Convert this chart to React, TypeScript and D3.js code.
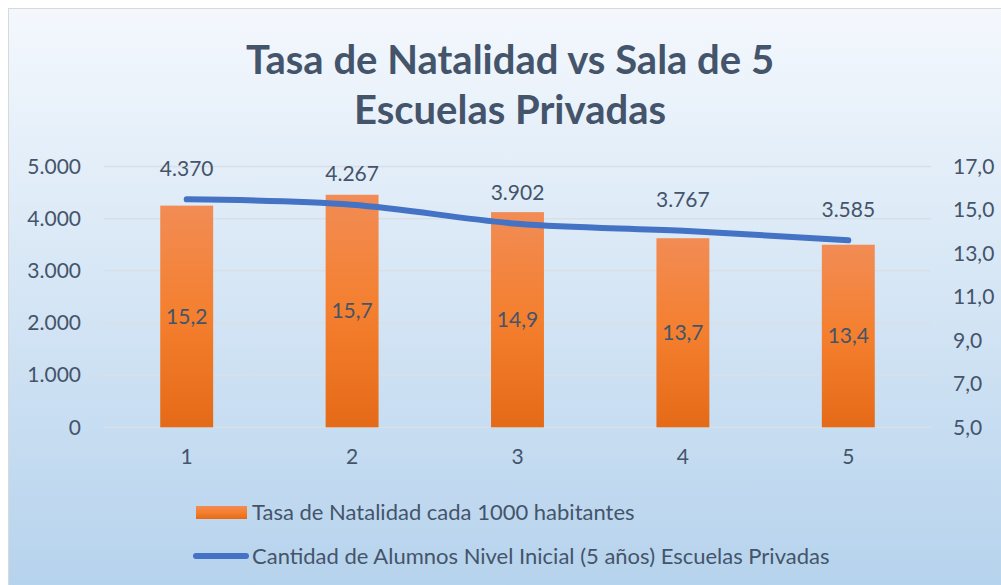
import React from 'react';
import * as d3 from 'd3';

const categories = ['1', '2', '3', '4', '5'];
const natalidad = [15.2, 15.7, 14.9, 13.7, 13.4];
const alumnos = [4370, 4267, 3902, 3767, 3585];
const leftTicks = [0, 1000, 2000, 3000, 4000, 5000];
const rightTicks = [5, 7, 9, 11, 13, 15, 17];
const seriesNames = [
  'Tasa de Natalidad cada 1000 habitantes',
  'Cantidad de Alumnos Nivel Inicial (5 años) Escuelas Privadas',
];

const W = 1001;
const H = 585;
const FONT = "Lato, 'Open Sans', sans-serif";
const TEXT = '#44546a';

const fmtLeft = (v: number) => d3.format(',')(v).replace(/,/g, '.');
const fmtRight = (v: number) => v.toFixed(1).replace('.', ',');

const App = () => {
  const plot = { left: 104, right: 931, top: 166.5, bottom: 427.3 };

  const x = d3
    .scaleBand()
    .domain(categories)
    .range([plot.left, plot.right])
    .paddingInner(0.68)
    .paddingOuter(0.34);
  const xc = (c: string) => (x(c) as number) + x.bandwidth() / 2;
  const yL = d3.scaleLinear().domain([0, 5000]).range([plot.bottom, plot.top]);
  const yR = d3.scaleLinear().domain([5, 17]).range([plot.bottom, plot.top]);

  const line = d3
    .line<number>()
    .x((_, i) => xc(categories[i]))
    .y((d) => yL(d))
    .curve(d3.curveCatmullRom.alpha(0.5));

  return (
    <div style={{ position: 'absolute', left: 0, top: 0 }}>
      <svg width={W} height={H} style={{ display: 'block', fontFamily: FONT }}>
        <defs>
          <linearGradient id="bg" x1="0" y1="0" x2="0" y2="1">
            <stop offset="0%" stopColor="#f4f8fd" />
            <stop offset="100%" stopColor="#b3d1ec" />
          </linearGradient>
          <linearGradient id="bar" x1="0" y1="0" x2="0" y2="1">
            <stop offset="0%" stopColor="#f28c55" />
            <stop offset="50%" stopColor="#f47f2e" />
            <stop offset="100%" stopColor="#e56a17" />
          </linearGradient>
        </defs>

        <rect x={0} y={0} width={W} height={H} fill="#ffffff" />
        <rect x={8.5} y={8.5} width={W} height={H + 20} fill="url(#bg)" stroke="#d9d9d9" strokeWidth={1} />

        {/* título */}
        <text x={510} y={74} textAnchor="middle" fontSize={40} fontWeight={700} fill={TEXT}>
          Tasa de Natalidad vs Sala de 5
        </text>
        <text x={510} y={124} textAnchor="middle" fontSize={40} fontWeight={700} fill={TEXT}>
          Escuelas Privadas
        </text>

        {/* grilla */}
        {leftTicks.map((t) => (
          <line key={t} x1={plot.left} x2={plot.right} y1={yL(t)} y2={yL(t)} stroke="#d9dfe6" strokeWidth={1.5} />
        ))}

        {/* eje izquierdo */}
        {leftTicks.map((t) => (
          <text key={t} x={81} y={yL(t)} dy="0.35em" textAnchor="end" fontSize={21} fill={TEXT}>
            {fmtLeft(t)}
          </text>
        ))}

        {/* eje derecho */}
        {rightTicks.map((t) => (
          <text key={t} x={953} y={yR(t)} dy="0.35em" textAnchor="start" fontSize={21} fill={TEXT}>
            {fmtRight(t)}
          </text>
        ))}

        {/* eje x */}
        {categories.map((c) => (
          <text key={c} x={xc(c)} y={457} dy="0.35em" textAnchor="middle" fontSize={21} fill={TEXT}>
            {c}
          </text>
        ))}

        {/* barras */}
        {natalidad.map((v, i) => (
          <rect
            key={i}
            x={x(categories[i])}
            y={yR(v)}
            width={x.bandwidth()}
            height={plot.bottom - yR(v)}
            fill="url(#bar)"
          />
        ))}

        {/* línea */}
        <path d={line(alumnos) || ''} fill="none" stroke="#4472c4" strokeWidth={6} strokeLinecap="round" strokeLinejoin="round" />

        {/* etiquetas barras */}
        {natalidad.map((v, i) => (
          <text
            key={i}
            x={xc(categories[i])}
            y={(yR(v) + plot.bottom) / 2}
            dy="0.35em"
            textAnchor="middle"
            fontSize={21}
            fill={TEXT}
          >
            {fmtRight(v)}
          </text>
        ))}

        {/* etiquetas línea */}
        {alumnos.map((v, i) => (
          <text key={i} x={xc(categories[i])} y={yL(v) - 31} dy="0.35em" textAnchor="middle" fontSize={21} fill={TEXT}>
            {fmtLeft(v)}
          </text>
        ))}

        {/* leyenda */}
        <rect x={196} y={506} width={51} height={13} fill="url(#bar)" />
        <text x={252} y={512} dy="0.35em" fontSize={22} fill={TEXT}>
          {seriesNames[0]}
        </text>
        <line x1={196} x2={246} y1={556} y2={556} stroke="#4472c4" strokeWidth={6} strokeLinecap="round" />
        <text x={252} y={556} dy="0.35em" fontSize={22} fill={TEXT}>
          {seriesNames[1]}
        </text>
      </svg>
    </div>
  );
};

export default App;
